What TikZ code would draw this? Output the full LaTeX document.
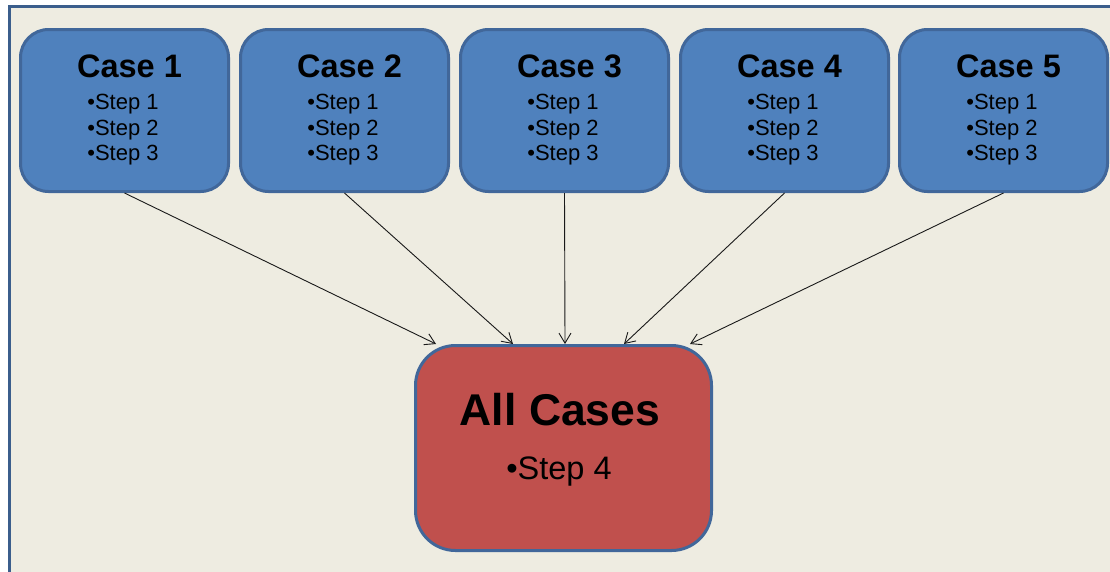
\documentclass[tikz,border=0pt]{standalone}
\usepackage{fontspec}
\setmainfont{Liberation Sans}
\usetikzlibrary{arrows.meta}
\definecolor{bgtan}{HTML}{EEECE1}
\definecolor{frameblue}{HTML}{3B5E8C}
\definecolor{boxblue}{HTML}{4F81BD}
\definecolor{boxedge}{HTML}{41679A}
\definecolor{boxred}{HTML}{C0504D}
\tikzset{
  casebox/.style={draw=boxedge, fill=boxblue, line width=3pt, rounded corners=28pt,
    minimum width=208pt, minimum height=162pt, inner sep=0pt},
  allbox/.style={draw=boxedge, fill=boxred, line width=3pt, rounded corners=40pt,
    minimum width=296pt, minimum height=205pt, inner sep=0pt},
  casetitle/.style={font=\fontsize{32.5}{38}\selectfont\bfseries, inner sep=0pt},
  casesteps/.style={font=\fontsize{22}{25.5}\selectfont, align=left, inner sep=0pt},
  alltitle/.style={font=\fontsize{44.5}{50}\selectfont\bfseries, inner sep=0pt},
  allsteps/.style={font=\fontsize{32.5}{38}\selectfont, inner sep=0pt},
  flow/.style={line width=0.9pt, draw=black!90, -{Straight Barb[length=10pt,width=12pt]}}
}
\begin{document}
\begin{tikzpicture}[x=1pt,y=-1pt]
\useasboundingbox (0,0) rectangle (1110,571);
\fill[white] (0,0) rectangle (1110,571);
\draw[frameblue, line width=3pt, fill=bgtan] (1130,590) -- (9,590) -- (9,6) -- (1130,6);
% case boxes
\foreach \i/\cx in {1/124.5, 2/344.5, 3/564.5, 4/784.5, 5/1003.5}{
  \node[casebox] (c\i) at (\cx,110.5) {};
  \node[casetitle] (t\i) at (\cx+5,66) {Case \i};
  \node[casesteps] (s\i) at (\cx-1.5,130) {•Step 1\\•Step 2\\•Step 3};
}
% all cases box
\node[allbox] (all) at (563.5,448) {};
\node[alltitle] (allt) at (560,410) {All Cases};
\node[allsteps] (alls) at (559,472) {•Step 4};
% arrow ends on top of the All Cases box
\coordinate (e1) at (436,344);
\coordinate (e2) at (513,344);
\coordinate (e3) at (565,344);
\coordinate (e4) at (624,344);
\coordinate (e5) at (690,344);
\foreach \i in {1,...,5}{
  \draw[flow] (c\i.south) -- (e\i);
}
\end{tikzpicture}
\end{document}
